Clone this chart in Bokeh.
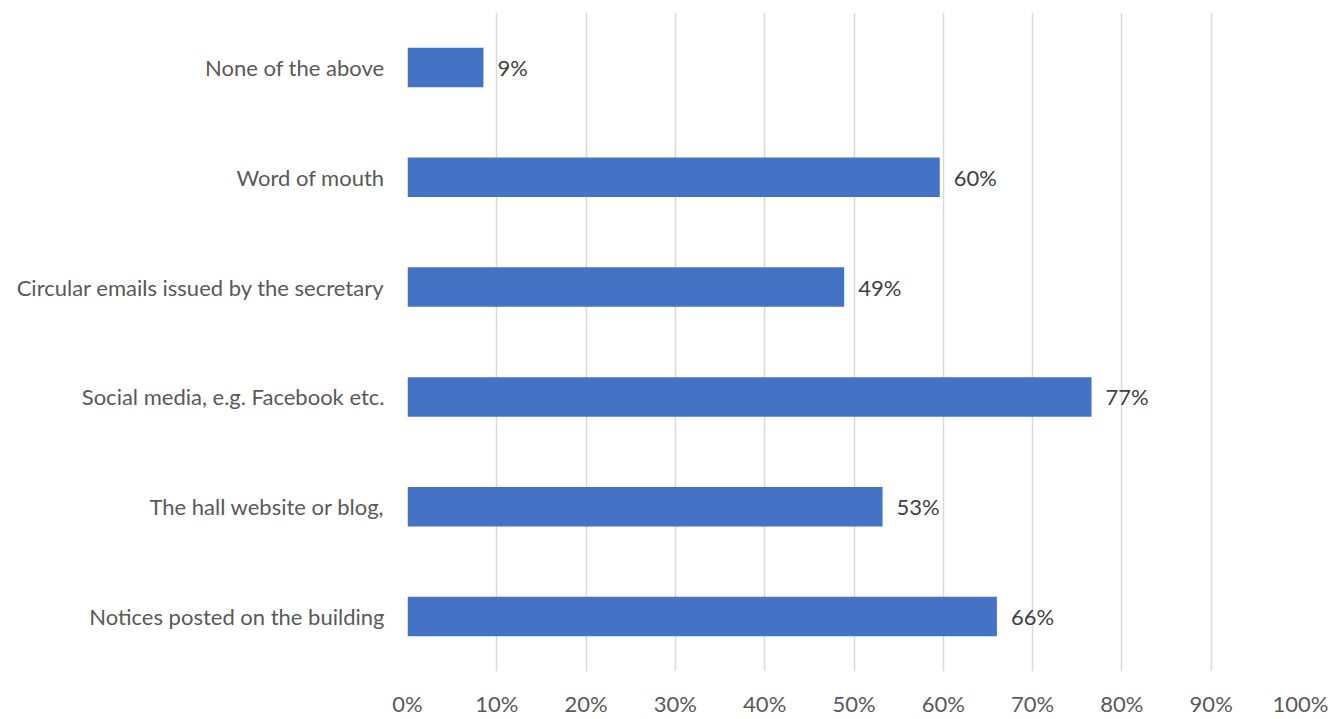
from bokeh.plotting import figure
from bokeh.models import ColumnDataSource, FactorRange, Range1d, NumeralTickFormatter, FixedTicker
from bokeh.embed import file_html
from bokeh.resources import INLINE
from bokeh.core.properties import value

categories = [
    "None of the above",
    "Word of mouth",
    "Circular emails issued by the secretary",
    "Social media, e.g. Facebook etc.",
    "The hall website or blog,",
    "Notices posted on the building",
]
values = [0.085, 0.596, 0.489, 0.766, 0.532, 0.660]
labels = ["9%", "60%", "49%", "77%", "53%", "66%"]
x_ticks = [0.0, 0.1, 0.2, 0.3, 0.4, 0.5, 0.6, 0.7, 0.8, 0.9, 1.0]

FONT = "Lato"
FS = "22px"
source = ColumnDataSource(dict(cat=categories, val=values, lab=labels))

p = figure(
    width=1330, height=719,
    y_range=FactorRange(factors=list(reversed(categories)), range_padding=0),
    x_range=Range1d(0, 1),
    output_backend="svg", toolbar_location=None,
    min_border_left=407, min_border_right=30, min_border_top=12, min_border_bottom=41,
)
p.outline_line_color = None
p.background_fill_color = "white"
p.border_fill_color = "white"

p.hbar(y="cat", right="val", left=0, height=0.36, source=source,
       fill_color="#4472C4", line_color=None)

p.text(x="val", y="cat", text="lab", source=source, x_offset=14,
       text_font=value(FONT), text_font_size=FS, text_color="#404040",
       text_baseline="middle", text_align="left")

p.xaxis.ticker = FixedTicker(ticks=x_ticks)
p.xaxis.formatter = NumeralTickFormatter(format="0%")
p.xaxis.axis_line_color = None
p.xaxis.major_tick_line_color = None
p.xaxis.minor_tick_line_color = None
p.xaxis.major_tick_out = 0
p.xaxis.major_label_text_font = FONT
p.xaxis.major_label_text_font_size = FS
p.xaxis.major_label_text_color = "#595959"
p.xaxis.major_label_standoff = 18

p.yaxis.axis_line_color = None
p.yaxis.major_tick_line_color = None
p.yaxis.major_tick_out = 0
p.yaxis.major_label_text_font = FONT
p.yaxis.major_label_text_font_size = FS
p.yaxis.major_label_text_color = "#595959"
p.yaxis.major_label_standoff = 23

p.ygrid.grid_line_color = None
p.xgrid.grid_line_color = "#D9D9D9"
p.xgrid.grid_line_width = 1.5

open("out.html", "w").write(file_html(p, INLINE))
